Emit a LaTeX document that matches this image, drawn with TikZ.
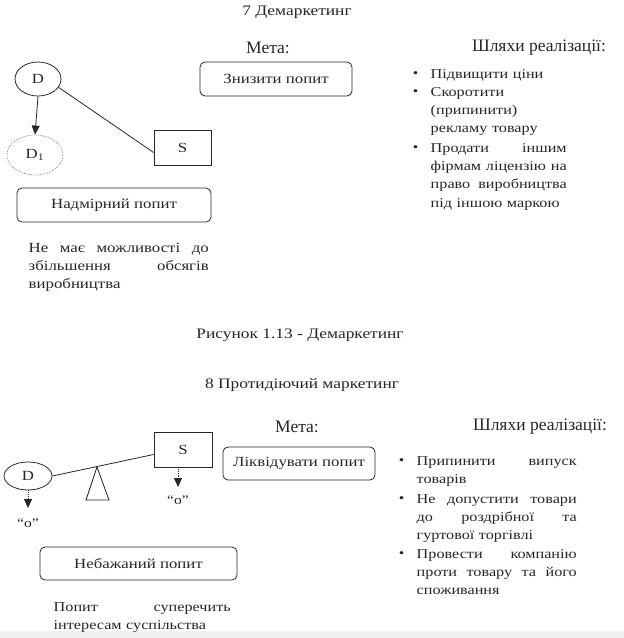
\documentclass[tikz,border=0pt]{standalone}
\usepackage{fontspec}
\setmainfont{Liberation Serif}[FakeStretch=1.2]
\newfontfamily\headfont{Liberation Serif}
\usetikzlibrary{arrows.meta,shapes.geometric}
\newcommand{\bul}{\llap{\raisebox{0.5pt}{\fontsize{13}{13}\selectfont\textbullet}\hspace{12.5pt}}}
\newcommand{\jl}[1]{\makebox[\hsize][s]{\spaceskip=.25em plus 1fil\relax#1}}
\begin{document}
\begin{tikzpicture}[x=1pt,y=-1pt,line width=0.8pt,color=black!85,
  goalbox/.style={draw,rounded corners=5pt,font=\fontsize{14}{16}\selectfont},
  headtext/.style={font=\fontsize{14.5}{17}\selectfont},
  bigtext/.style={font=\headfont\fontsize{17.5}{20}\selectfont},
  bodytext/.style={anchor=base west,align=left,font=\fontsize{13.5}{18.4}\selectfont},
  tip/.style={-{Triangle[width=8pt,length=9pt]}}]
\useasboundingbox (0,0) rectangle (624,638);
\fill[black!6] (0,631) rectangle (624,638);
% 7
\node[headtext] (title7) at (297,12) {7 Демаркетинг};
\node[bigtext] (meta7) at (268,48) {Мета:};
\node[bigtext] (ways7) at (539,48) {Шляхи реалізації:};
\node[goalbox,minimum width=152,minimum height=34] (goal7) at (276,79) {Знизити попит};
\node[draw,ellipse,minimum width=46,minimum height=34,font=\fontsize{14}{16}\selectfont] (D7) at (38,79) {D};
\node[draw=black!45,densely dotted,ellipse,minimum width=56,minimum height=40,font=\fontsize{14}{16}\selectfont] (D71) at (35,155) {D\textsubscript{1}};
\node[draw,minimum width=57,minimum height=35,font=\fontsize{14}{16}\selectfont] (S7) at (182.5,147.5) {S};
\draw[tip] (D7.south) -- (D71.north);
\draw (D7.-22) -- ([yshift=-5pt]S7.west);
\node[goalbox,minimum width=194,minimum height=34] (need7) at (114,205) {Надмірний попит};
\node[bodytext,text width=180,font=\fontsize{14}{18.4}\selectfont] (note7) at (25,252) {\jl{Не має можливості до}\\
\jl{збільшення обсягів}\\
виробництва};
\node[bodytext,text width=136] (w71) at (427,78) {\bul Підвищити ціни};
\node[bodytext,text width=136] (w72) at (427,96) {\bul Скоротити\\(припинити)\\рекламу товару};
\node[bodytext,text width=136] (w73) at (427,152) {\bul\jl{Продати іншим}\\
\jl{фірмам ліцензію на}\\
\jl{право виробництва}\\
під іншою маркою};
\node[headtext] (cap) at (300,335) {Рисунок 1.13 - Демаркетинг};
% 8
\node[headtext] (title8) at (302,385) {8 Протидіючий маркетинг};
\node[bigtext] (meta8) at (297,427) {Мета:};
\node[bigtext] (ways8) at (540,427) {Шляхи реалізації:};
\node[goalbox,minimum width=152,minimum height=33] (goal8) at (299,463.5) {Ліквідувати попит};
\node[draw,minimum width=58,minimum height=35,font=\fontsize{14}{16}\selectfont] (S8) at (183,449.5) {S};
\node[draw,ellipse,minimum width=48,minimum height=28,font=\fontsize{14}{16}\selectfont] (D8) at (28,476) {D};
\draw (D8.east) -- ([yshift=-5pt]S8.west);
\draw (97,467) -- (86,500) -- (109,500) -- cycle;
\coordinate (d8end) at (28,508);
\coordinate (s8end) at (178,487);
\draw[tip,densely dotted] (D8.south) -- (d8end);
\draw[tip,densely dotted] ([xshift=-5pt]S8.south) -- (s8end);
\node[font=\fontsize{13}{15}\selectfont] (o1) at (28,523) {“о”};
\node[font=\fontsize{13}{15}\selectfont] (o2) at (178,500) {“о”};
\node[goalbox,minimum width=197,minimum height=33] (need8) at (138.5,563.5) {Небажаний попит};
\node[bodytext,text width=177] (note8) at (50,611) {\jl{Попит суперечить}\\
інтересам суспільства};
\node[bodytext,text width=160] (w81) at (413,465) {\bul\jl{Припинити випуск}\\товарів};
\node[bodytext,text width=160] (w82) at (413,503) {\bul\jl{Не допустити товари}\\
\jl{до роздрібної та}\\
гуртової торгівлі};
\node[bodytext,text width=160] (w83) at (413,558) {\bul\jl{Провести компанію}\\
\jl{проти товару та його}\\
споживання};
\end{tikzpicture}
\end{document}
